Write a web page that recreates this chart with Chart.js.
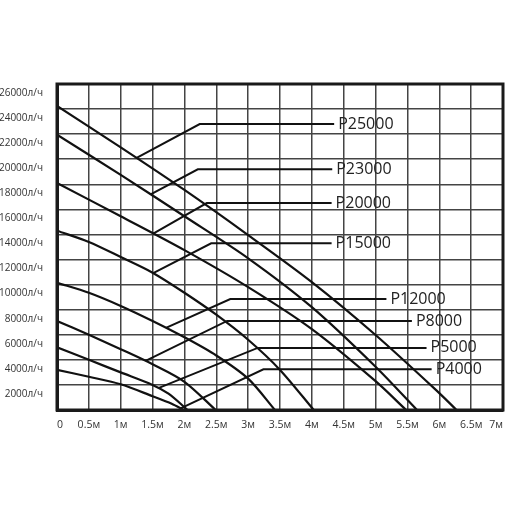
<!DOCTYPE html>
<html lang="ru">
<head>
  <meta charset="UTF-8">
  <title>Напорные характеристики насосов</title>
  <script src="https://cdn.jsdelivr.net/npm/chart.js"></script>
  <style>
    body {
      margin: 0;
      background: #fff;
    }
    canvas {
      display: block;
    }
  </style>
</head>
<body>
  <canvas id="pumpChart" width="512" height="512"></canvas>
  <script>
    // модели насосов
    const modelNames = ['P25000', 'P23000', 'P20000', 'P15000', 'P12000', 'P8000', 'P5000', 'P4000'];

    // напор, м (точки)
    const headPoints = [
      [0, 1, 2, 3, 4, 5, 6, 6.27],
      [0, 1, 2, 3, 4, 5, 5.65],
      [0, 1, 2, 3, 4, 5, 5.48],
      [0, 0.5, 1, 1.5, 2, 2.5, 3, 3.5, 4.03],
      [0, 0.5, 1, 1.5, 2, 2.5, 3, 3.42],
      [0, 0.5, 1, 1.5, 2, 2.49],
      [0, 0.5, 1, 1.5, 1.75, 2.05],
      [0, 0.5, 1, 1.5, 1.8, 1.99]
    ];

    // расход, л/ч
    const flowPoints = [
      [24250, 20950, 17550, 13950, 10200, 5980, 1350, 0],
      [21950, 18750, 15450, 12100, 8200, 3450, 0],
      [18100, 15450, 12750, 9800, 6450, 2300, 0],
      [14300, 13400, 12200, 10950, 9350, 7600, 5600, 3200, 0],
      [10150, 9350, 8300, 7100, 5800, 4350, 2500, 0],
      [7100, 6000, 4850, 3650, 2250, 0],
      [5000, 4000, 3000, 2000, 1300, 0],
      [3200, 2650, 2050, 1100, 500, 0]
    ];

    // выноски с подписями
    const labelAnchorHead = [1.25, 1.47, 1.51, 1.51, 1.71, 1.39, 1.59, 1.94];
    const labelElbowHead = [2.24, 2.21, 2.35, 2.42, 2.72, 2.67, 3.15, 3.24];
    const labelEndHead = [4.35, 4.32, 4.31, 4.31, 5.17, 5.57, 5.80, 5.88];
    const labelFlow = [22800, 19200, 16500, 13300, 8850, 7100, 4950, 3250];

    function flowAt(i, h) {
      const xs = headPoints[i], ys = flowPoints[i];
      for (let k = 1; k < xs.length; k++) {
        if (h <= xs[k]) {
          const t = (h - xs[k - 1]) / (xs[k] - xs[k - 1]);
          return ys[k - 1] + t * (ys[k] - ys[k - 1]);
        }
      }
      return ys[ys.length - 1];
    }

    const datasets = [];
    modelNames.forEach((name, i) => {
      datasets.push({
        label: name,
        data: headPoints[i].map((h, k) => ({ x: h, y: flowPoints[i][k] })),
        borderColor: '#111',
        borderWidth: 2.2,
        pointRadius: 0,
        tension: 0.3,
        fill: false
      });
      datasets.push({
        label: name + ' выноска',
        data: [
          { x: labelAnchorHead[i], y: flowAt(i, labelAnchorHead[i]) },
          { x: labelElbowHead[i], y: labelFlow[i] },
          { x: labelEndHead[i], y: labelFlow[i] }
        ],
        borderColor: '#111',
        borderWidth: 2,
        pointRadius: 0,
        tension: 0,
        fill: false
      });
    });

    // рамка и подписи моделей
    const frameAndLabels = {
      id: 'frameAndLabels',
      afterDatasetsDraw(chart) {
        const { ctx, chartArea: a, scales: { x, y } } = chart;
        ctx.save();
        ctx.lineWidth = 3;
        ctx.strokeStyle = '#1a1a1a';
        ctx.strokeRect(a.left, a.top, a.right - a.left, a.bottom - a.top);
        ctx.font = '16px "Open Sans"';
        ctx.fillStyle = '#222';
        ctx.textAlign = 'left';
        ctx.textBaseline = 'middle';
        modelNames.forEach((name, i) => {
          ctx.fillText(name, x.getPixelForValue(labelEndHead[i]) + 4, y.getPixelForValue(labelFlow[i]));
        });
        ctx.restore();
      }
    };

    new Chart(document.getElementById('pumpChart'), {
      type: 'line',
      data: { datasets: datasets },
      options: {
        responsive: false,
        animation: false,
        layout: { padding: { top: 84, right: 2, bottom: 0, left: 0 } },
        plugins: {
          legend: { display: false },
          tooltip: { enabled: false }
        },
        scales: {
          x: {
            type: 'linear',
            min: 0,
            max: 7,
            afterFit: (s) => { s.height = 102; },
            grid: { color: '#444', lineWidth: 1.5, drawTicks: false },
            border: { color: '#1a1a1a', width: 3 },
            ticks: {
              stepSize: 0.5,
              align: 'inner',
              padding: 9,
              color: '#333',
              font: { family: 'Open Sans', size: 10.5 },
              callback: (v) => v === 0 ? '0' : v + 'м'
            }
          },
          y: {
            type: 'linear',
            min: 0,
            max: 26000,
            afterFit: (s) => { s.width = 57; },
            grid: { color: '#444', lineWidth: 1.5, drawTicks: false },
            border: { color: '#1a1a1a', width: 3 },
            ticks: {
              stepSize: 2000,
              padding: 14,
              labelOffset: 9,
              color: '#333',
              font: { family: 'Open Sans', size: 10 },
              callback: (v) => v === 0 ? '' : v + 'л/ч'
            }
          }
        }
      },
      plugins: [frameAndLabels]
    });
  </script>
</body>
</html>
